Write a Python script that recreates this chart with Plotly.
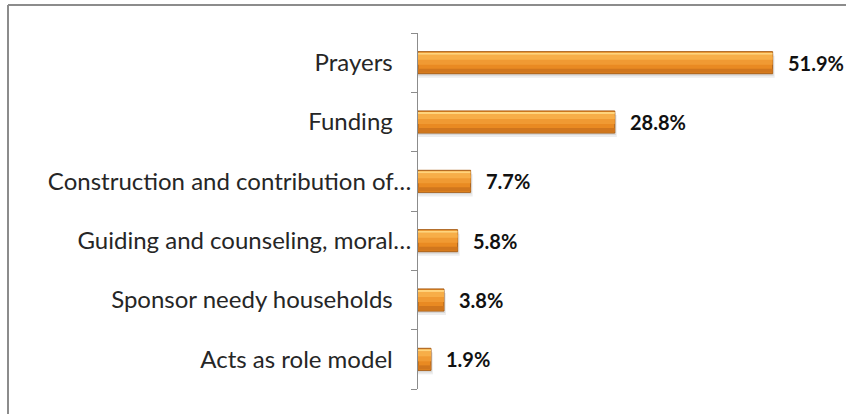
import plotly.graph_objects as go

# Survey responses, listed bottom-to-top on the chart
categories = [
    "Acts as role model",
    "Sponsor needy households",
    "Guiding and counseling, moral…",
    "Construction and contribution of…",
    "Funding",
    "Prayers",
]
values = [1.9, 3.8, 5.8, 7.7, 28.8, 51.9]
value_labels = [f"{v:.1f}%" for v in values]

# full labels sit a little further from the axis than the clipped ones
pad = "\u00a0" * 3
tick_text = [c if c.endswith("…") else c + pad for c in categories]

W, H = 847, 414
L, R, T, B = 418, 19, 33, 25
plot_w = W - L - R
plot_h = H - T - B

bar_w = 0.372          # in category units (~22 px)
px = 1 / 59.2          # one pixel in category units

fig = go.Figure()


def band(xs, width, offset, color, line=None, skip=True):
    fig.add_trace(go.Bar(
        y=categories, x=xs, orientation="h",
        width=width, offset=offset,
        marker=dict(color=color,
                    line=line if line else dict(width=0)),
        hoverinfo="skip" if skip else None, showlegend=False,
    ))


# soft drop shadow under each bar
band([v + 0.3 for v in values], bar_w, -bar_w / 2 - 4 * px, "rgba(0,0,0,0.07)")
band([v + 0.15 for v in values], bar_w, -bar_w / 2 - 2 * px, "rgba(0,0,0,0.09)")
# main orange body with outline
band(values, bar_w, -bar_w / 2, "#E98A22",
     line=dict(color="#A85E17", width=1), skip=False)
# darker lower rim
band(values, 4 * px, -bar_w / 2 + 1 * px, "#D0761D")
# lighter middle and upper bands
band(values, 8 * px, -2 * px, "#F09A33")
band(values, 5 * px, 3 * px, "#F7AE48")
# bright highlight along the top edge
band(values, 2 * px, bar_w / 2 - 3 * px, "#FFD47C")

# value labels to the right of each bar
for cat, v, txt in zip(categories, values, value_labels):
    fig.add_annotation(
        x=v, y=cat, text=txt, showarrow=False,
        xanchor="left", yanchor="middle", xshift=13,
        font=dict(family="Lato", size=20, color="#111111", weight="bold"),
    )

# chart frame: top and left edges
fig.add_shape(type="line", xref="paper", yref="paper",
              x0=(8 - L) / plot_w, x1=(846 - L) / plot_w,
              y0=1 + (T - 5) / plot_h, y1=1 + (T - 5) / plot_h,
              line=dict(color="#8C8C8C", width=2))
fig.add_shape(type="line", xref="paper", yref="paper",
              x0=(8 - L) / plot_w, x1=(8 - L) / plot_w,
              y0=1 + (T - 5) / plot_h, y1=-B / plot_h - 0.01,
              line=dict(color="#8C8C8C", width=2))

fig.update_layout(
    width=W, height=H,
    margin=dict(l=L, r=R, t=T, b=B, pad=0),
    paper_bgcolor="white", plot_bgcolor="white",
    barmode="overlay",
    xaxis=dict(range=[0, 60], visible=False, fixedrange=True),
    yaxis=dict(
        type="category", categoryorder="array", categoryarray=categories,
        tickmode="array", tickvals=categories, ticktext=tick_text,
        range=[-0.5, 5.5],
        showline=True, linecolor="#8C8C8C", linewidth=1,
        ticks="outside", tickson="boundaries", ticklen=6,
        tickcolor="#8C8C8C", tickwidth=1,
        ticklabelstandoff=1,
        showgrid=False, zeroline=False,
        tickfont=dict(family="Lato", size=24, color="#262626"),
    ),
    font=dict(family="Lato"),
)

fig.write_html("out.html")
